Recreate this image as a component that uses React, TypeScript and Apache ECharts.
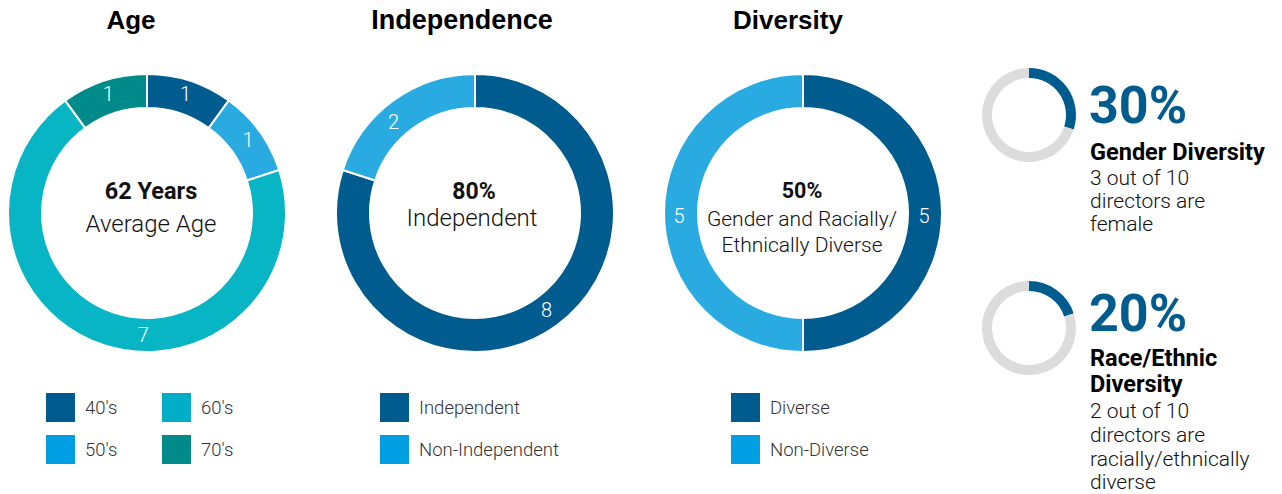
import React, { useEffect, useRef } from "react";
import * as echarts from "echarts";

const ageNames = ["40's", "50's", "60's", "70's"];
const ageValues = [1, 1, 7, 1];
const ageColors = ["#005B8F", "#29ABE2", "#07B5C5", "#008A8A"];
const ageLegendColors = ["#005B8F", "#009FE3", "#00AEC7", "#008A8A"];

const indNames = ["Independent", "Non-Independent"];
const indValues = [8, 2];
const indColors = ["#005B8F", "#29ABE2"];
const indLegendColors = ["#005B8F", "#009FE3"];

const divNames = ["Diverse", "Non-Diverse"];
const divValues = [5, 5];
const divColors = ["#005B8F", "#29ABE2"];
const divLegendColors = ["#005B8F", "#009FE3"];

const genderPct = 30;
const racePct = 20;

const FONT = "Roboto";

export default function App() {
  const ref = useRef<HTMLDivElement>(null);
  useEffect(() => {
    if (!ref.current) return;
    const chart = echarts.init(ref.current, null, { renderer: "svg" });

    const donut = (
      id: string,
      names: string[],
      values: number[],
      colors: string[],
      cx: number,
      offsets: Record<number, number[]> = {}
    ) => ({
      type: "pie",
      id,
      center: [cx, 213],
      radius: [105, 139],
      startAngle: 90,
      clockwise: true,
      silent: true,
      itemStyle: { borderColor: "#fff", borderWidth: 2 },
      label: {
        show: true,
        position: "inside",
        color: "#fff",
        fontFamily: FONT,
        fontWeight: 300,
        fontSize: 20,
        formatter: "{c}",
      },
      labelLine: { show: false },
      data: names.map((n, i) => ({
        name: n,
        value: values[i],
        itemStyle: { color: colors[i] },
        ...(offsets[i] ? { label: { offset: offsets[i] } } : {}),
      })),
    });

    const mini = (id: string, pct: number, cy: number) => ({
      type: "pie",
      id,
      center: [1029, cy],
      radius: [37, 47],
      startAngle: 90,
      silent: true,
      label: { show: false },
      labelLine: { show: false },
      data: [
        { name: id + "-yes", value: pct, itemStyle: { color: "#005B8F" } },
        { name: id + "-no", value: 100 - pct, itemStyle: { color: "#DCDCDC" } },
      ],
    });

    const legend = (names: string[], colors: string[], left: number) => ({
      orient: "vertical",
      left,
      top: 391,
      padding: 0,
      itemWidth: 31,
      itemHeight: 31,
      itemGap: 9,
      icon: "rect",
      selectedMode: false,
      textStyle: {
        fontFamily: FONT,
        fontWeight: 300,
        fontSize: 18.5,
        color: "#333",
        padding: [0, 0, 0, 4],
      },
      data: names.map((n, i) => ({ name: n, itemStyle: { color: colors[i] } })),
    });

    const txt = (text: string, x: number, y: number, size: number, weight: any, color = "#111", family = FONT, align = "center") => ({
      type: "text",
      x,
      y,
      style: {
        text,
        x: 0,
        y: 0,
        fill: color,
        fontFamily: family,
        fontWeight: weight,
        fontSize: size,
        textAlign: align,
        textVerticalAlign: "middle",
      },
    });

    const option: any = {
      animation: false,
      series: [
        donut("age", ageNames, ageValues, ageColors, 147, { 2: [35, 3] }),
        donut("ind", indNames, indValues, indColors, 475, { 0: [-2, -4], 1: [-8, 10] }),
        donut("div", divNames, divValues, divColors, 803, { 0: [-4, 3], 1: [1, 3] }),
        mini("gender", genderPct, 115),
        mini("race", racePct, 328),
      ],
      legend: [
        legend(ageNames.slice(0, 2), ageLegendColors.slice(0, 2), 44),
        legend(ageNames.slice(2, 4), ageLegendColors.slice(2, 4), 160),
        legend(indNames, indLegendColors, 378),
        legend(divNames, divLegendColors, 729),
      ],
      graphic: [
        txt("Age", 131, 20, 26, "bold", "#000", "Liberation Sans"),
        txt("Independence", 462, 20, 27, "bold", "#000", "Liberation Sans"),
        txt("Diversity", 788, 20, 26, "bold", "#000", "Liberation Sans"),
        txt("62 Years", 151, 191, 23.5, "bold"),
        txt("Average Age", 151, 224, 24, 300),
        txt("80%", 474, 191, 23, "bold"),
        txt("Independent", 472, 218, 24, 300),
        txt("50%", 802, 190, 21.5, "bold"),
        txt("Gender and Racially/", 802, 219, 21, 300),
        txt("Ethnically Diverse", 802, 245, 21, 300),
        txt(genderPct + "%", 1089, 105, 52, "bold", "#005B8F", FONT, "left"),
        txt("Gender Diversity", 1090, 152, 23.5, "bold", "#000", FONT, "left"),
        txt("3 out of 10", 1090, 178, 21, 300, "#111", FONT, "left"),
        txt("directors are", 1090, 201, 21, 300, "#111", FONT, "left"),
        txt("female", 1090, 224, 21, 300, "#111", FONT, "left"),
        txt(racePct + "%", 1089, 313, 52, "bold", "#005B8F", FONT, "left"),
        txt("Race/Ethnic", 1090, 358, 23.5, "bold", "#000", FONT, "left"),
        txt("Diversity", 1090, 384, 23.5, "bold", "#000", FONT, "left"),
        txt("2 out of 10", 1090, 411, 21, 300, "#111", FONT, "left"),
        txt("directors are", 1090, 435, 21, 300, "#111", FONT, "left"),
        txt("racially/ethnically", 1090, 459, 21, 300, "#111", FONT, "left"),
        txt("diverse", 1090, 482, 21, 300, "#111", FONT, "left"),
      ],
    };
    chart.setOption(option);
    return () => chart.dispose();
  }, []);
  return (
    <div
      ref={ref}
      style={{ position: "absolute", left: 0, top: 0, width: 1282, height: 494, background: "#fff" }}
    />
  );
}
